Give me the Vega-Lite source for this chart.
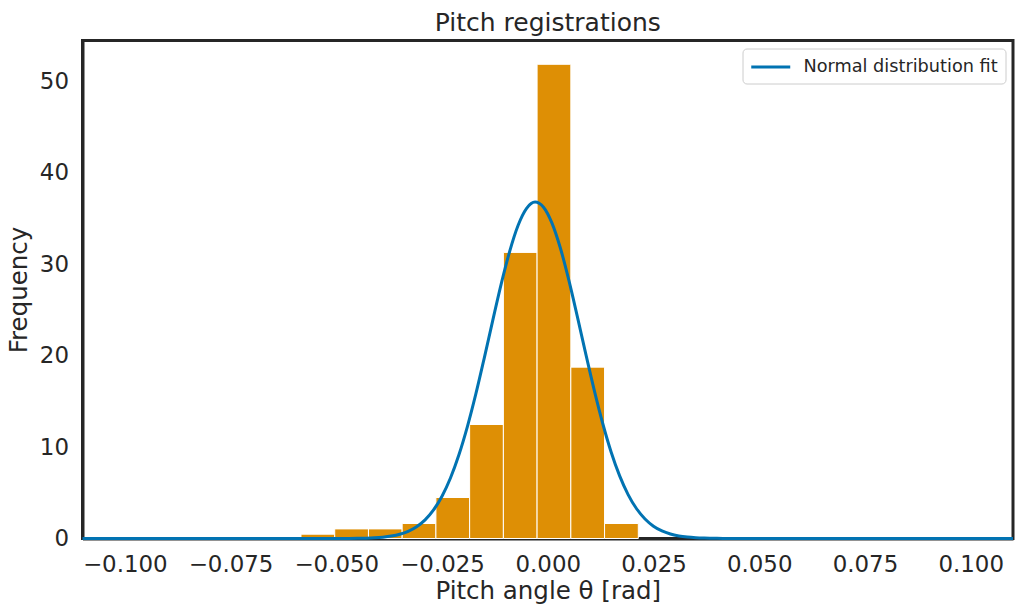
{
  "$schema": "https://vega.github.io/schema/vega-lite/v6.json",
  "autosize": "none",
  "width": 930.5,
  "height": 498,
  "padding": {"left": 82.5, "top": 40.5, "right": 2, "bottom": 69.5},
  "background": "white",
  "config": {
    "font": "DejaVu Sans",
    "view": {"stroke": "#262626", "strokeWidth": 3},
    "axis": {
      "grid": false,
      "ticks": false,
      "domainColor": "#262626",
      "domainWidth": 3,
      "labelColor": "#262626",
      "labelFont": "DejaVu Sans",
      "labelFontSize": 22.9,
      "labelFlush": false,
      "titleColor": "#262626",
      "titleFont": "DejaVu Sans",
      "titleFontSize": 24.5,
      "titleFontWeight": "normal",
      "zindex": 1
    }
  },
  "title": {
    "text": "Pitch registrations",
    "fontSize": 25,
    "fontWeight": "normal",
    "font": "DejaVu Sans",
    "color": "#262626",
    "baseline": "bottom",
    "offset": 5,
    "dy": 25
  },
  "datasets": {
    "bins": [
      {"start": -0.05834, "end": -0.05037, "density": 0.47},
      {"start": -0.05037, "end": -0.04239, "density": 1.05},
      {"start": -0.04239, "end": -0.03442, "density": 1.05},
      {"start": -0.03442, "end": -0.02644, "density": 1.64},
      {"start": -0.02644, "end": -0.01847, "density": 4.48},
      {"start": -0.01847, "end": -0.01049, "density": 12.46},
      {"start": -0.01049, "end": -0.00252, "density": 31.27},
      {"start": -0.00252, "end": 0.00546, "density": 51.83},
      {"start": 0.00546, "end": 0.01343, "density": 18.73},
      {"start": 0.01343, "end": 0.02141, "density": 1.64}
    ],
    "fit": [
      {"x": -0.11, "y": 0},
      {"x": -0.09, "y": 0},
      {"x": -0.07, "y": 0},
      {"x": -0.06, "y": 0},
      {"x": -0.05, "y": 0.003},
      {"x": -0.047, "y": 0.009},
      {"x": -0.045, "y": 0.0198},
      {"x": -0.043, "y": 0.0398},
      {"x": -0.041, "y": 0.0772},
      {"x": -0.039, "y": 0.145},
      {"x": -0.037, "y": 0.263},
      {"x": -0.035, "y": 0.462},
      {"x": -0.033, "y": 0.784},
      {"x": -0.031, "y": 1.285},
      {"x": -0.029, "y": 2.035},
      {"x": -0.027, "y": 3.119},
      {"x": -0.025, "y": 4.618},
      {"x": -0.023, "y": 6.611},
      {"x": -0.021, "y": 9.148},
      {"x": -0.019, "y": 12.23},
      {"x": -0.017, "y": 15.8},
      {"x": -0.015, "y": 19.75},
      {"x": -0.013, "y": 23.84},
      {"x": -0.011, "y": 27.83},
      {"x": -0.009, "y": 31.39},
      {"x": -0.007, "y": 34.24},
      {"x": -0.005, "y": 36.09},
      {"x": -0.003, "y": 36.77},
      {"x": -0.001, "y": 36.21},
      {"x": 0.001, "y": 34.47},
      {"x": 0.003, "y": 31.72},
      {"x": 0.005, "y": 28.21},
      {"x": 0.007, "y": 24.25},
      {"x": 0.009, "y": 20.15},
      {"x": 0.011, "y": 16.19},
      {"x": 0.013, "y": 12.57},
      {"x": 0.015, "y": 9.43},
      {"x": 0.017, "y": 6.84},
      {"x": 0.019, "y": 4.8},
      {"x": 0.021, "y": 3.25},
      {"x": 0.023, "y": 2.13},
      {"x": 0.025, "y": 1.348},
      {"x": 0.027, "y": 0.825},
      {"x": 0.029, "y": 0.488},
      {"x": 0.031, "y": 0.279},
      {"x": 0.033, "y": 0.154},
      {"x": 0.035, "y": 0.0824},
      {"x": 0.037, "y": 0.0425},
      {"x": 0.04, "y": 0.0148},
      {"x": 0.045, "y": 0.0022},
      {"x": 0.05, "y": 0.0002},
      {"x": 0.06, "y": 0},
      {"x": 0.08, "y": 0},
      {"x": 0.1, "y": 0},
      {"x": 0.11, "y": 0}
    ]
  },
  "layer": [
    {
      "data": {"name": "bins"},
      "mark": {"type": "rect", "color": "#de8f05", "stroke": "white", "strokeWidth": 1},
      "encoding": {
        "x": {
          "field": "start",
          "type": "quantitative",
          "scale": {"domain": [-0.11, 0.11], "nice": false, "zero": false},
          "axis": {
            "title": "Pitch angle θ [rad]",
            "values": [-0.1, -0.075, -0.05, -0.025, 0, 0.025, 0.05, 0.075, 0.1],
            "format": ".3f",
            "labelPadding": 15,
            "titlePadding": 3
          }
        },
        "x2": {"field": "end"},
        "y": {
          "field": "density",
          "type": "quantitative",
          "scale": {"domain": [0, 54.43], "nice": false},
          "axis": {
            "title": "Frequency",
            "values": [0, 10, 20, 30, 40, 50],
            "labelPadding": 14,
            "titlePadding": 8
          }
        },
        "y2": {"datum": 0}
      }
    },
    {
      "data": {"name": "fit"},
      "mark": {"type": "line", "strokeWidth": 3, "interpolate": "monotone"},
      "encoding": {
        "x": {"field": "x", "type": "quantitative"},
        "y": {"field": "y", "type": "quantitative"},
        "color": {
          "datum": "Normal distribution fit",
          "type": "nominal",
          "scale": {"range": ["#0173b2"]},
          "legend": {
            "title": null,
            "orient": "top-right",
            "offset": 8,
            "padding": 7,
            "symbolType": "M-1,0H3",
            "symbolSize": 380,
            "symbolStrokeWidth": 3,
            "labelOffset": 31,
            "labelFontSize": 17.7,
            "labelLimit": 0,
            "labelFont": "DejaVu Sans",
            "labelColor": "#262626",
            "strokeColor": "#cccccc",
            "fillColor": "white",
            "cornerRadius": 4
          }
        }
      }
    }
  ]
}
